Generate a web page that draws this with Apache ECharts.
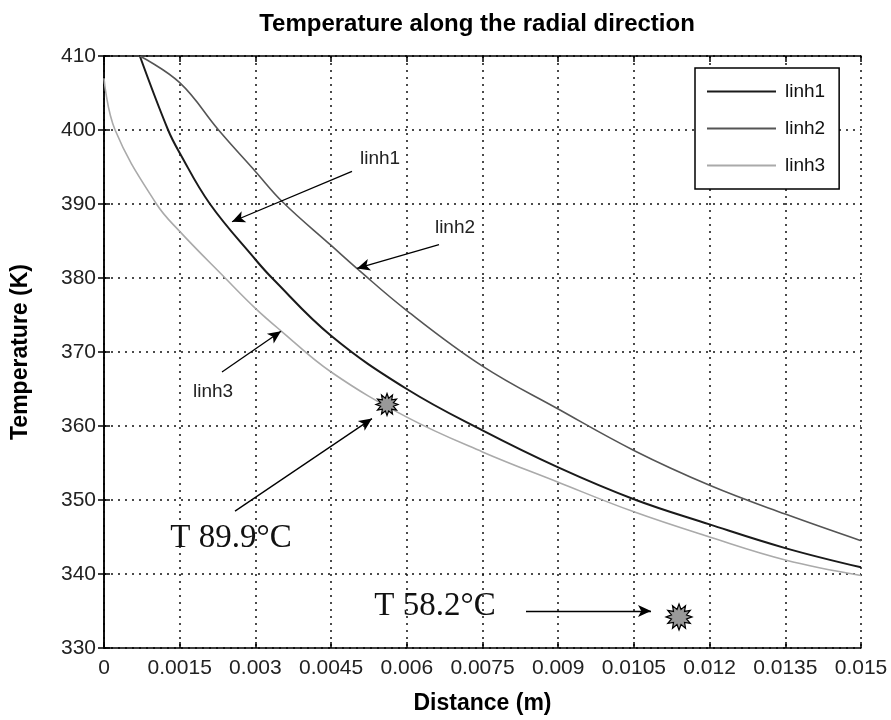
<!DOCTYPE html>
<html>
<head>
<meta charset="utf-8">
<script src="https://cdn.jsdelivr.net/npm/echarts@6/dist/echarts.min.js"></script>
<style>
html, body { margin: 0; padding: 0; background: #fff; }
#chart { width: 891px; height: 720px; }
</style>
</head>
<body>
<div id="chart"></div>
<script>
// curves (distance in m, temperature in K)
const linh1X = [0.00071, 0.00127, 0.0015, 0.0021, 0.003, 0.00333, 0.0045, 0.006, 0.0075, 0.009, 0.0105, 0.012, 0.0135, 0.015];
const linh1Y = [410, 400, 396.9, 390, 382.5, 380, 372.2, 365.0, 359.4, 354.4, 350.1, 346.7, 343.5, 340.9];
const linh2X = [0.00071, 0.0015, 0.00227, 0.003, 0.00355, 0.0045, 0.00501, 0.006, 0.0075, 0.009, 0.0105, 0.012, 0.0135, 0.015];
const linh2Y = [410, 406.4, 400, 394.4, 390.2, 384.4, 381.3, 375.6, 368.1, 362.3, 356.7, 352.0, 348.1, 344.5];
const linh3X = [0, 0.00022, 0.00104, 0.0015, 0.0024, 0.003, 0.0035, 0.0045, 0.006, 0.0075, 0.009, 0.0105, 0.012, 0.0135, 0.015];
const linh3Y = [407.0, 400, 390, 386.3, 380, 375.9, 372.9, 367.3, 361.2, 356.5, 352.4, 348.4, 345.0, 341.9, 339.8];

const seriesNames = ['linh1', 'linh2', 'linh3'];

// annotations, in data coordinates
const labelPos = [[0.00547, 396.1], [0.006955, 386.8], [0.00216, 364.6]];
const arrowFrom = [[0.004914, 394.4], [0.006638, 384.5], [0.002338, 367.3], [0.002596, 348.5], [0.008362, 335.0]];
const arrowTo = [[0.002536, 387.6], [0.005013, 381.3], [0.003507, 372.8], [0.00531, 361.0], [0.010839, 335.0]];
const tempLabels = ['T 89.9°C', 'T 58.2°C'];
const tempPos = [[0.002517, 344.8], [0.006559, 335.66]];
const starPos = [[0.005608, 362.9], [0.011394, 334.2]];

const zip = (xs, ys) => xs.map((x, i) => [x, ys[i]]);

function starPath(n, rIn) {
    let d = '';
    for (let i = 0; i < 2 * n; i++) {
        const a = i * Math.PI / n;
        const r = i % 2 ? rIn : 1;
        d += (i ? 'L' : 'M') + (50 + 50 * r * Math.sin(a)).toFixed(2) + ' ' + (50 - 50 * r * Math.cos(a)).toFixed(2);
    }
    return 'path://' + d + 'Z';
}

const chart = echarts.init(document.getElementById('chart'));

const gridLine = { show: true, lineStyle: { color: '#111', type: [2, 5], width: 1.5 } };
const axisLine = { show: true, lineStyle: { color: '#000', width: 1.5 } };
const tick = { show: true, inside: true, length: 6, lineStyle: { color: '#000', width: 1.5 } };
const tickFont = { fontFamily: 'Liberation Sans', fontSize: 21, color: '#222' };
const nameFont = { fontFamily: 'Liberation Sans', fontSize: 23, fontWeight: 'bold', color: '#000' };

const lineStyles = [
    { color: '#1a1a1a', width: 2 },
    { color: '#555', width: 1.6 },
    { color: '#aaa', width: 1.6 }
];
const curves = [zip(linh1X, linh1Y), zip(linh2X, linh2Y), zip(linh3X, linh3Y)];

const series = seriesNames.map((name, i) => ({
    name: name,
    type: 'line',
    data: curves[i],
    smooth: 0.4,
    symbol: 'none',
    color: lineStyles[i].color,
    lineStyle: lineStyles[i],
    z: 3
}));

const annoFont = { fontFamily: 'Liberation Sans', fontSize: 19, color: '#222' };
const star = starPath(12, 0.6);

series.push({
    name: 'notes',
    type: 'line',
    data: [],
    silent: true,
    markLine: {
        silent: true,
        symbol: ['none', 'arrow'],
        symbolSize: [9, 13],
        label: { show: false },
        lineStyle: { color: '#000', type: 'solid', width: 1.3 },
        data: arrowFrom.map((p, i) => [{ coord: p }, { coord: arrowTo[i] }])
    },
    markPoint: {
        silent: true,
        data: [
            ...seriesNames.map((n, i) => ({
                coord: labelPos[i], symbol: 'rect', symbolSize: 1,
                itemStyle: { color: 'rgba(0,0,0,0)' },
                label: Object.assign({ show: true, position: 'inside', formatter: n }, annoFont)
            })),
            ...tempLabels.map((t, i) => ({
                coord: tempPos[i], symbol: 'rect', symbolSize: 1,
                itemStyle: { color: 'rgba(0,0,0,0)' },
                label: { show: true, position: 'inside', formatter: t, fontFamily: 'Liberation Serif', fontSize: 33, color: '#111' }
            })),
            ...starPos.map((p, i) => ({
                coord: p, symbol: star, symbolSize: i ? 26 : 22,
                itemStyle: { color: '#999', borderColor: '#000', borderWidth: 1.2 },
                label: { show: false }
            }))
        ]
    }
});

chart.setOption({
    animation: false,
    backgroundColor: '#fff',
    title: {
        text: 'Temperature along the radial direction',
        left: 472,
        textAlign: 'center',
        top: 7,
        textStyle: { fontFamily: 'Liberation Sans', fontSize: 24, fontWeight: 'bold', color: '#000' }
    },
    grid: { left: 104, right: 30, top: 56, bottom: 70 },
    legend: {
        data: seriesNames.map(n => ({ name: n, icon: 'rect' })),
        orient: 'vertical',
        left: 695,
        top: 68,
        itemWidth: 69,
        itemHeight: 2,
        itemGap: 18,
        padding: [14, 14, 14, 12],
        borderColor: '#000',
        borderWidth: 1.5,
        backgroundColor: '#fff',
        textStyle: { fontFamily: 'Liberation Sans', fontSize: 19, lineHeight: 14, color: '#111', padding: [0, 0, 0, 4] }
    },
    xAxis: [{
        type: 'value',
        min: 0,
        max: 0.015,
        interval: 0.0015,
        name: 'Distance (m)',
        nameLocation: 'middle',
        nameGap: 44,
        nameTextStyle: nameFont,
        axisLine: axisLine,
        axisTick: tick,
        splitLine: gridLine,
        axisLabel: Object.assign({ margin: 10, formatter: v => String(+v.toFixed(4)) }, tickFont)
    }, {
        type: 'value',
        position: 'top',
        min: 0,
        max: 0.015,
        interval: 0.0015,
        axisLine: axisLine,
        axisTick: tick,
        splitLine: { show: false },
        axisLabel: { show: false }
    }],
    yAxis: [{
        type: 'value',
        min: 330,
        max: 410,
        interval: 10,
        name: 'Temperature (K)',
        nameLocation: 'middle',
        nameGap: 72,
        nameTextStyle: nameFont,
        axisLine: axisLine,
        axisTick: tick,
        splitLine: gridLine,
        axisLabel: Object.assign({ margin: 8 }, tickFont)
    }, {
        type: 'value',
        position: 'right',
        min: 330,
        max: 410,
        interval: 10,
        axisLine: axisLine,
        axisTick: tick,
        splitLine: { show: false },
        axisLabel: { show: false }
    }],
    series: series
});
</script>
</body>
</html>
